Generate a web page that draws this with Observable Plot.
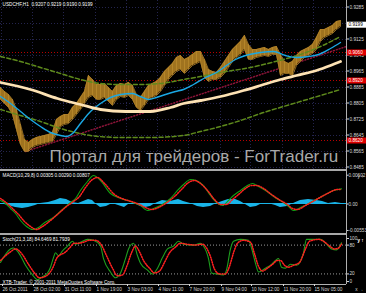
<!DOCTYPE html>
<html><head><meta charset="utf-8">
<script src="https://cdn.jsdelivr.net/npm/d3@7"></script>
<script src="https://cdn.jsdelivr.net/npm/@observablehq/plot@0.6"></script>
<style>
html,body{margin:0;padding:0;background:#000;}
#wrap{position:relative;width:366px;height:293px;background:#000;overflow:hidden;}
#wrap svg{position:absolute;left:0;}
.sep{position:absolute;left:0;width:347px;height:2px;background:#a8a8a8;}
</style></head><body><div id="wrap"></div>
<script>
const FONT = "'Liberation Sans', Arial, sans-serif";
const TXT = "#d8d8d8";
const X_MAX = 346; // visible bar range (bar index)

// ---- time axis
const timeTicks = [1,32,63,95,126,157,188,220,250,282,313];
const timeLabels = ["26 Oct 2011","28 Oct 02:00","31 Oct 11:00","1 Nov 19:00","3 Nov 03:00","4 Nov 11:00","7 Nov 20:00","9 Nov 04:00","10 Nov 12:00","11 Nov 20:00","15 Nov 05:00"];

// ---- main pane
const header = "USDCHF,H1  0.9207 0.9219 0.9190 0.9199";
const watermark = "Портал для трейдеров - ForTrader.ru";
const priceTicks = [0.9285,0.9205,0.9125,0.9045,0.8965,0.8885,0.8805,0.8725,0.8645,0.8565,0.8485];
const priceTickLabels = [0.9285,0.9125,0.9045,0.8965,0.8885,0.8805,0.8725,0.8645,0.8565,0.8485];
const levelPrices = [0.9060,0.8920,0.8620];
const lastPrice = 0.9199;

const priceX = [0,4,8,12,16,20,24,28,32,36,40,44,48,52,56,60,64,68,72,76,80,84,88,92,96,100,104,108,112,116,120,124,128,132,136,140,144,148,152,156,160,164,168,172,176,180,184,188,192,196,200,204,208,212,216,220,224,228,232,236,240,244,248,252,256,260,264,268,272,276,280,284,288,292,296,300,304,308,312,316,320,324,328,332,336,340];
const priceHigh = [0.8885,0.8865,0.8850,0.8825,0.8775,0.8700,0.8625,0.8610,0.8625,0.8635,
0.8640,0.8645,0.8650,0.8660,0.8725,0.8740,0.8750,0.8750,0.8785,0.8805,
0.8835,0.8865,0.8945,0.8925,0.8900,0.8900,0.8905,0.8885,0.8865,0.8895,
0.8905,0.8900,0.8910,0.8895,0.8850,0.8835,0.8865,0.8895,0.8905,0.8915,
0.8935,0.8965,0.8985,0.9005,0.9035,0.9045,0.9025,0.9035,0.9050,0.9065,
0.9065,0.9025,0.8975,0.8965,0.8960,0.8985,0.9015,0.9045,0.9075,0.9095,
0.9115,0.9145,0.9100,0.9075,0.9075,0.9080,0.9085,0.9075,0.9085,0.9090,
0.9050,0.9015,0.9005,0.9015,0.9045,0.9065,0.9075,0.9085,0.9100,0.9135,
0.9175,0.9175,0.9185,0.9195,0.9215,0.9219];
const priceLow = [0.8825,0.8805,0.8785,0.8750,0.8675,0.8600,0.8565,0.8565,0.8585,0.8595,
0.8600,0.8605,0.8610,0.8615,0.8650,0.8690,0.8700,0.8705,0.8725,0.8750,
0.8775,0.8805,0.8835,0.8845,0.8825,0.8825,0.8835,0.8815,0.8795,0.8825,
0.8840,0.8835,0.8845,0.8825,0.8785,0.8770,0.8795,0.8825,0.8835,0.8845,
0.8865,0.8895,0.8925,0.8945,0.8965,0.8975,0.8955,0.8975,0.8995,0.9005,
0.9015,0.8935,0.8915,0.8925,0.8925,0.8935,0.8955,0.8985,0.9015,0.9035,
0.9050,0.9075,0.9025,0.9025,0.9035,0.9040,0.9045,0.9040,0.9050,0.9050,
0.8945,0.8955,0.8955,0.8945,0.8995,0.9015,0.9035,0.9045,0.9055,0.9075,
0.9115,0.9135,0.9145,0.9155,0.9175,0.9190];

const blueX = [0,10,20,30,40,50,60,66,72,80,90,100,110,120,132,140,148,156,165,175,183,193,205,216,226,235,245,260,273,285,296,308,318,330,340];
const blueV = [0.8840,0.8805,0.8765,0.8725,0.8690,0.8660,0.8645,0.8640,0.8655,0.8705,0.8765,0.8805,0.8835,0.8850,0.8855,0.8840,0.8825,0.8835,0.8850,0.8865,0.8875,0.8900,0.8935,0.8960,0.8995,0.9025,0.9045,0.9060,0.9065,0.9045,0.9035,0.9040,0.9050,0.9080,0.9110];
const creamX = [0,30,57,80,100,125,150,170,183,200,220,243,260,280,296,316,330,340];
const creamV = [0.8910,0.8875,0.8830,0.8800,0.8775,0.8765,0.8765,0.8785,0.8805,0.8820,0.8840,0.8870,0.8895,0.8925,0.8945,0.8970,0.8995,0.9015];
const upperX = [0,20,40,60,80,100,120,140,160,183,200,220,250,275,300,320,340];
const upperV = [0.9040,0.9015,0.8985,0.8955,0.8925,0.8905,0.8900,0.8900,0.8905,0.8925,0.8940,0.8960,0.8985,0.9015,0.9050,0.9090,0.9140];
const lowerX = [0,20,40,60,75,90,120,150,183,200,220,243,263,283,310,340];
const lowerV = [0.8775,0.8745,0.8715,0.8680,0.8660,0.8645,0.8635,0.8635,0.8645,0.8665,0.8690,0.8725,0.8760,0.8790,0.8830,0.8875];
const trendX = [25,346];
const trendV = [0.8565,0.9090];

// ---- MACD pane
const macdHeader = "MACD(10,29,8) 0.00305 0.00290 0.00807";
const macdX = [0,5,10,15,20,26,32,38,43,53,63,70,75,80,87,93,100,110,120,127,135,140,147,153,160,170,177,183,190,196,203,210,216,222,228,233,240,247,252,258,265,276,283,288,293,300,310,323,333,341];
const macdV = [0.00063,0,-0.00105,-0.00209,-0.00355,-0.00481,-0.00543,-0.00502,-0.00418,-0.00293,-0.00105,0.00021,0.00105,0.00272,0.00460,0.00585,0.00481,0.00209,0.00105,0.00063,0,-0.00042,-0.00146,-0.00105,-0.00042,0.00105,0.00272,0.00397,0.00502,0.00481,0.00376,0.00167,0.00021,-0.00042,0.00063,0.00167,0.00272,0.00376,0.00418,0.00355,0.00272,0.00105,0.00021,-0.00063,-0.00146,-0.00084,0.00021,0.00167,0.00272,0.00305];
const sigX = [0,8,13,18,24,30,36,42,50,58,66,73,79,85,92,97,104,114,124,131,139,145,151,158,165,174,181,188,194,200,207,214,220,226,232,238,245,251,256,263,271,280,287,292,297,305,316,327,337,341];
const sigV = [0.00105,-0.00021,-0.00125,-0.00230,-0.00376,-0.00481,-0.00543,-0.00481,-0.00355,-0.00209,-0.00063,0.00042,0.00146,0.00334,0.00502,0.00543,0.00418,0.00188,0.00084,0.00042,-0.00021,-0.00084,-0.00125,-0.00084,0,0.00146,0.00293,0.00439,0.00481,0.00418,0.00272,0.00084,-0.00021,-0.00021,0.00084,0.00188,0.00314,0.00376,0.00376,0.00314,0.00188,0.00063,-0.00021,-0.00105,-0.00125,-0.00042,0.00084,0.00209,0.00293,0.00290];
const histX = [0,8,15,22,28,35,40,48,55,60,66,72,78,83,88,92,96,100,106,112,118,124,128,134,140,145,150,155,162,170,178,183,190,197,203,210,216,222,228,235,240,245,250,256,262,268,275,280,287,293,300,308,316,322,328,335,341];
const histV = [0,-0.00042,-0.00084,-0.00105,-0.00084,-0.00042,0,0.00021,0.00063,0.00105,0.00084,0.00021,0,0.00042,0.00084,0.00063,-0.00021,-0.00084,-0.00063,0,-0.00042,-0.00084,-0.00021,0,-0.00063,-0.00084,-0.00063,0,0.00063,0.00042,0.00084,0.00042,0,-0.00063,-0.00084,-0.00063,0,0.00042,0.00084,0.00084,0.00042,-0.00021,-0.00084,-0.00063,0,0,-0.00042,-0.00084,-0.00063,0,0.00063,0.00084,0.00063,0.00042,0,0.00021,0];

// ---- Stochastic pane
const stochHeader = "Stoch(21,3,18) 84.6469 81.7939";
const copyright = "XTB-Trader, © 2001-2011 MetaQuotes Software Corp.";
const stochLevels = [80,20];
const kX = [0,10,13,20,25,32,37,42,47,50,53,55,58,62,67,72,75,80,87,93,100,103,110,115,120,125,128,133,137,140,147,152,157,162,167,173,178,183,193,200,203,208,211,216,223,226,230,233,240,248,251,255,258,265,270,275,278,281,285,290,296,303,306,315,320,326,331,336,341];
const kV = [44,72,74,58,38,18,8,14,22,34,54,64,58,68,78,88,82,86,92,90,78,52,24,12,22,52,72,84,58,42,28,20,32,54,72,78,88,82,80,84,78,52,22,20,18,28,72,88,92,90,74,42,24,32,38,48,52,34,32,40,38,64,92,92,92,82,72,70,85];
const dX = [0,10,15,22,28,34,39,44,49,53,56,60,64,69,74,78,83,89,95,101,106,112,117,122,127,131,135,139,143,149,154,159,164,169,175,180,186,195,202,206,210,214,219,225,229,233,237,243,250,254,258,262,267,272,277,280,284,288,293,299,305,309,318,323,329,334,338,341];
const dV = [48,66,72,60,40,22,12,14,22,36,52,60,64,74,84,84,86,90,90,80,58,32,16,18,40,64,78,66,48,32,22,26,44,64,76,84,82,80,82,74,56,30,20,20,36,64,84,90,86,62,36,26,32,40,48,48,38,34,38,44,72,88,92,88,78,72,74,82];

const zip = (xs, ys) => xs.map((x, i) => ({x, y: ys[i]}));
const bars = priceX.map((x, i) => ({x, hi: priceHigh[i], lo: priceLow[i]}));
const style = {background: "transparent", color: TXT, fontFamily: FONT, fontSize: "4.7px", overflow: "visible"};
const wrap = document.getElementById("wrap");

// Main chart
const main = Plot.plot({
  width: 366, height: 169, marginLeft: 0, marginRight: 20, marginTop: 0, marginBottom: 0,
  style,
  x: {domain: [0, X_MAX], axis: null},
  y: {domain: [0.8475, 0.9320], axis: null},
  marks: [
    Plot.ruleY(priceTicks, {stroke: "#24244e", strokeDasharray: "1,2"}),
    Plot.ruleX(timeTicks, {stroke: "#24244e", strokeDasharray: "1,2"}),
    Plot.ruleY(levelPrices, {stroke: "#b80000", strokeDasharray: "1,2"}),
    Plot.line(zip(trendX, trendV), {x: "x", y: "y", stroke: "#8c1438", strokeDasharray: "1,2"}),
    Plot.areaY(bars, {x: "x", y1: "lo", y2: "hi", fill: "#a0731f"}),
    Plot.ruleX(bars, {x: "x", y1: "lo", y2: "hi", stroke: "#b98a2c", strokeWidth: 0.8}),
    Plot.line(bars, {x: "x", y: "hi", stroke: "#b08028", strokeWidth: 0.8}),
    Plot.line(bars, {x: "x", y: "lo", stroke: "#b08028", strokeWidth: 0.8}),
    Plot.line(zip(upperX, upperV), {x: "x", y: "y", stroke: "#5e8a1c", strokeDasharray: "4,2.5", curve: "monotone-x"}),
    Plot.line(zip(lowerX, lowerV), {x: "x", y: "y", stroke: "#5e8a1c", strokeDasharray: "4,2.5", curve: "monotone-x"}),
    Plot.line(zip(blueX, blueV), {x: "x", y: "y", stroke: "#1aa8e4", strokeWidth: 1.4, curve: "monotone-x"}),
    Plot.line(zip(creamX, creamV), {x: "x", y: "y", stroke: "#fde2b4", strokeWidth: 2.8, curve: "monotone-x"}),
    Plot.text([watermark], {frameAnchor: "bottom-left", dx: 49, dy: -7.5, lineAnchor: "bottom", textAnchor: "start", fontSize: 17, fill: "#a9a9a9"}),
    Plot.text([header], {frameAnchor: "top-left", dx: 2, dy: 2, lineAnchor: "top", textAnchor: "start", fill: "#ffffff"}),
    Plot.ruleX([X_MAX], {stroke: "#b0b0b0"}),
    Plot.axisY(priceTickLabels, {anchor: "right", tickFormat: d3.format(".4f"), tickSize: 2, tickPadding: 1, dy: -0.5}),
    Plot.ruleY(levelPrices, {x1: X_MAX + 1, x2: X_MAX + 20, stroke: "#e00000", strokeWidth: 6}),
    Plot.text(levelPrices, {x: X_MAX + 2, y: d => d, text: d3.format(".4f"), textAnchor: "start", fill: "#ffffff"}),
    Plot.ruleY([lastPrice], {x1: X_MAX + 1, x2: X_MAX + 20, stroke: "#ffffff", strokeWidth: 6}),
    Plot.text([lastPrice], {x: X_MAX + 2, y: d => d, text: d3.format(".4f"), textAnchor: "start", fill: "#000000"})
  ]
});
main.style.top = "0px";
wrap.appendChild(main);

// MACD
const macd = Plot.plot({
  width: 366, height: 62, marginLeft: 0, marginRight: 20, marginTop: 0, marginBottom: 0,
  style,
  x: {domain: [0, X_MAX], axis: null},
  y: {domain: [-0.00627, 0.00669], axis: null},
  marks: [
    Plot.areaY(zip(histX, histV), {x: "x", y: "y", fill: "#19b4e8"}),
    Plot.ruleY([0], {stroke: "#19b4e8"}),
    Plot.line(zip(macdX, macdV), {x: "x", y: "y", stroke: "#12a012", strokeWidth: 1.1, curve: "monotone-x"}),
    Plot.line(zip(sigX, sigV), {x: "x", y: "y", stroke: "#ff2020", strokeDasharray: "1,1.5", curve: "monotone-x"}),
    Plot.text([macdHeader], {frameAnchor: "top-left", dx: 2, dy: 2, lineAnchor: "top", textAnchor: "start", fill: "#ffffff"}),
    Plot.ruleX([X_MAX], {stroke: "#b0b0b0"}),
    Plot.axisY([0.00602, 0, -0.00553], {anchor: "right", tickFormat: d => d === 0 ? "0.00" : d.toFixed(5), tickSize: 1.5, tickPadding: 0.5, dy: 0.5})
  ]
});
macd.style.top = "171px";
wrap.appendChild(macd);

// Stochastic
const stoch = Plot.plot({
  width: 366, height: 58, marginLeft: 0, marginRight: 20, marginTop: 0, marginBottom: 9,
  style,
  x: {domain: [0, X_MAX], axis: null},
  y: {domain: [-2, 100], axis: null},
  marks: [
    Plot.ruleY(stochLevels, {stroke: "#9a9a9a", strokeDasharray: "1,2"}),
    Plot.line(zip(kX, kV), {x: "x", y: "y", stroke: "#1ea01e", strokeWidth: 1.1, curve: "monotone-x"}),
    Plot.line(zip(dX, dV), {x: "x", y: "y", stroke: "#ff2020", strokeDasharray: "1,1.5", curve: "monotone-x"}),
    Plot.text([stochHeader], {frameAnchor: "top-left", dx: 2, dy: 2, lineAnchor: "top", textAnchor: "start", fill: "#ffffff"}),
    Plot.text([copyright], {frameAnchor: "bottom-left", dx: 2, dy: -1, lineAnchor: "bottom", textAnchor: "start", fill: "#ffffff"}),
    Plot.ruleX([X_MAX], {stroke: "#b0b0b0"}),
    Plot.ruleY([-2], {stroke: "#b0b0b0"}),
    Plot.axisY([100], {anchor: "right", tickSize: 2, tickPadding: 1, dy: 3}),
    Plot.axisY(stochLevels, {anchor: "right", tickSize: 2, tickPadding: 1}),
    Plot.axisY([0], {anchor: "right", tickSize: 2, tickPadding: 1, dy: -2}),
    Plot.axisX(timeTicks, {anchor: "bottom", tickFormat: d => timeLabels[timeTicks.indexOf(d)], textAnchor: "start", tickSize: 2, tickPadding: 1, dx: 1})
  ]
});
stoch.style.top = "235px";
wrap.appendChild(stoch);

for (const t of [169, 233]) {
  const s = document.createElement("div");
  s.className = "sep";
  s.style.top = t + "px";
  wrap.appendChild(s);
}
</script></body></html>
